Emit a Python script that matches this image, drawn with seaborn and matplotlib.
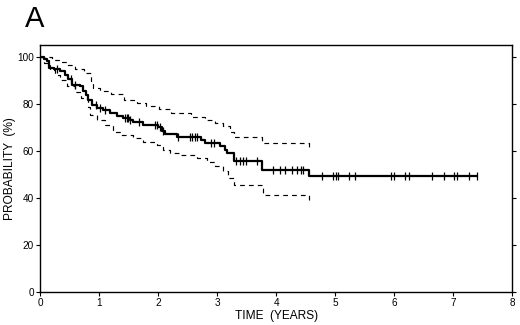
"""
Kaplan-Meier style survival curve with 95% confidence band (panel A).
"""
import numpy  as np
import pandas as pd
import matplotlib
matplotlib.use("Agg")
import matplotlib.pyplot as plt
import seaborn           as sns

# ================================================================================
# Data
# ================================================================================
# Survival estimate: event times (years) and probability (%) after each step
km_time = [0, 0.07, 0.11, 0.16, 0.23, 0.34, 0.42, 0.48, 0.54, 0.68, 0.72, 0.78, 0.82,
           0.88, 0.96, 1.07, 1.19, 1.30, 1.41, 1.53, 1.58, 1.75, 2.00, 2.06, 2.12, 2.32,
           2.72, 2.80, 3.05, 3.14, 3.17, 3.28, 3.76, 4.56, 7.41]
km_prob = [100, 99.2, 98.4, 95.4, 94.6, 93.8, 92.4, 90.4, 88.2, 87.6, 85.4, 83.8, 81.8,
           79.7, 78.2, 77.4, 76.1, 74.8, 74.0, 73.0, 72.2, 70.8, 70.2, 68.6, 67.0, 66.0,
           64.8, 63.4, 61.9, 60.5, 59.0, 55.8, 52.0, 49.3, 49.3]

# Censored observations (years)
censor_time = [0.28, 0.53, 0.59, 0.95, 1.01, 1.10, 1.44, 1.47, 1.49, 1.53, 1.67, 1.95,
               1.98, 2.03, 2.09, 2.34, 2.54, 2.58, 2.62, 2.66, 2.90, 2.94, 3.32, 3.38,
               3.44, 3.49, 3.67, 3.95, 4.07, 4.15, 4.27, 4.35, 4.43, 4.46, 4.77, 4.97,
               5.02, 5.04, 5.24, 5.33, 5.95, 5.99, 6.19, 6.25, 6.64, 6.84, 7.01, 7.06,
               7.26, 7.41]

# Upper confidence limit
ci_up_time = [0, 0.08, 0.20, 0.34, 0.45, 0.60, 0.75, 0.86, 0.90, 1.02, 1.20, 1.42, 1.65,
              1.80, 2.02, 2.22, 2.55, 2.80, 2.97, 3.10, 3.22, 3.28, 3.76, 4.56]
ci_up_prob = [100, 99.8, 98.8, 97.6, 96.6, 95.0, 93.2, 89.6, 86.8, 85.4, 84.0, 81.8, 80.4,
              78.9, 77.6, 76.2, 74.6, 73.0, 71.8, 70.6, 68.2, 66.1, 63.2, 61.0]

# Lower confidence limit
ci_lo_time = [0, 0.06, 0.17, 0.25, 0.34, 0.45, 0.60, 0.70, 0.82, 0.85, 0.96, 1.10, 1.24,
              1.36, 1.58, 1.75, 1.98, 2.09, 2.20, 2.37, 2.66, 2.83, 2.97, 3.10, 3.19,
              3.28, 3.77, 4.56]
ci_lo_prob = [100, 97.5, 94.5, 92.4, 90.3, 87.4, 85.2, 82.6, 78.8, 75.3, 73.1, 70.9, 68.1,
              66.7, 65.3, 63.8, 62.4, 60.3, 58.9, 58.2, 56.8, 55.4, 53.4, 51.3, 48.6,
              45.6, 41.4, 38.0]

x_ticks = [0, 1, 2, 3, 4, 5, 6, 7, 8]
y_ticks = [0, 20, 40, 60, 80, 100]

# ================================================================================
# Styling
# ================================================================================
sns.set_style("ticks")
plt.rcParams["font.family"] = ["Liberation Sans", "DejaVu Sans"]
plt.rcParams["text.color"]       = "black"
plt.rcParams["axes.labelcolor"]  = "black"
plt.rcParams["xtick.color"]      = "black"
plt.rcParams["ytick.color"]      = "black"
TICK_SIZE  = 7.2
LABEL_SIZE = 8.6

fig = plt.figure(figsize=(5.2, 3.25), dpi=100)
ax  = fig.add_axes([0.077, 0.1015, 0.908, 0.7600])

# --------------------------------------------------------------------------------
# Curves
# --------------------------------------------------------------------------------
km_df = pd.DataFrame({"t": km_time,    "p": km_prob})
up_df = pd.DataFrame({"t": ci_up_time, "p": ci_up_prob})
lo_df = pd.DataFrame({"t": ci_lo_time, "p": ci_lo_prob})

dash = (0, (4.0, 3.5))
sns.lineplot(data=up_df, x="t", y="p", ax=ax, color="black", lw=0.85, drawstyle="steps-post",
             linestyle=dash, estimator=None, sort=False)
sns.lineplot(data=lo_df, x="t", y="p", ax=ax, color="black", lw=0.85, drawstyle="steps-post",
             linestyle=dash, estimator=None, sort=False)
sns.lineplot(data=km_df, x="t", y="p", ax=ax, color="black", lw=1.6, drawstyle="steps-post",
             estimator=None, sort=False)

# Censor marks sit on the survival curve at their time
idx      = np.searchsorted(km_time, censor_time, side="right") - 1
censor_p = np.asarray(km_prob)[idx]
ax.plot(censor_time, censor_p, ls="none", marker="|", ms=5.5, mew=0.9, color="black")

# --------------------------------------------------------------------------------
# Axes
# --------------------------------------------------------------------------------
ax.set_xlim(0, 8)
ax.set_ylim(0, 105)
ax.set_xticks(x_ticks)
ax.set_yticks(y_ticks)
ax.tick_params(axis="both", labelsize=TICK_SIZE, length=3, width=0.8, pad=1.5,
               direction="out", right=True, labelright=False)
for s in ax.spines.values():
    s.set_linewidth(1.0)
    s.set_color("black")

ax.set_xlabel("TIME  (YEARS)", fontsize=LABEL_SIZE, labelpad=1)
ax.set_ylabel("PROBABILITY  (%)", fontsize=LABEL_SIZE, labelpad=1)

# Panel letter
fig.text(0.048, 0.985, "A", fontsize=21, ha="left", va="top")

fig.savefig("out.png", dpi=100)
